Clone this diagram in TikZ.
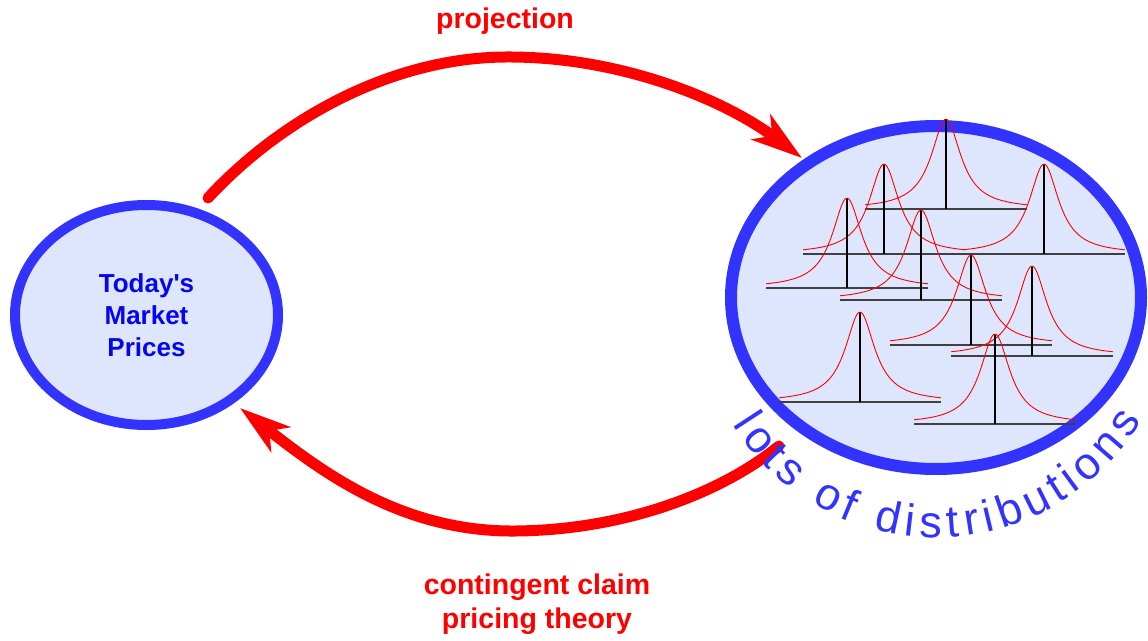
\documentclass[tikz,border=0pt]{standalone}
\usepackage{fontspec}
\setmainfont{Liberation Sans}
\setsansfont{Liberation Sans}
\newfontfamily\plainsans{Liberation Sans}
\usetikzlibrary{arrows.meta,shapes.geometric,decorations.text}
\definecolor{bordblue}{RGB}{51,51,255}
\definecolor{fillblue}{RGB}{221,230,253}
\definecolor{txtblue}{RGB}{5,5,240}
\definecolor{arrred}{RGB}{255,0,0}
\begin{document}
\begin{tikzpicture}[x=1pt,y=-1pt,
  bubble/.style={ellipse, draw=bordblue, fill=fillblue, inner sep=0pt},
  bigarrow/.style={draw=arrred, line width=11pt, line cap=round,
    -{Stealth[length=51pt, width=31pt, inset=14pt]}},
  lbl/.style={text=arrred, font=\bfseries\fontsize{28.5}{34}\selectfont, inner sep=0pt, align=center},
  baseln/.style={draw=black!75, line width=1.3pt},
  stemln/.style={draw=black, line width=1.2pt},
  curveln/.style={draw=arrred, line width=0.9pt}]
\fill[white] (0,0) rectangle (1148,640);
\useasboundingbox (0,0) rectangle (1148,640);

% left bubble
\node[bubble, line width=10pt, minimum width=263pt, minimum height=220pt,
  text=txtblue, align=center, font=\plainsans\bfseries\fontsize{26}{32}\selectfont]
  (mkt) at (146.5,315) {Today's\\Market\\Prices};

% right bubble
\node[bubble, line width=12pt, minimum width=410pt, minimum height=343pt]
  (rd) at (936,297.5) {};

% distributions
\foreach \cx/\by in {946/209, 884/254, 1044/254, 847/288, 921/300, 971/345, 1032/356, 860/402, 995/424}{
  \draw[baseln] (\cx-81,\by) -- (\cx+81,\by);
  \draw[stemln] (\cx,\by) -- (\cx,\by-90);
  \draw[curveln] plot[domain=-81:81, samples=90, smooth] ({\cx+\x},{\by-90/(1+(\x/18)^2)});
}

% arrows
\coordinate (ps) at (208,198);
\coordinate (pe) at (802,158);
\coordinate (cs) at (779,446);
\coordinate (ce) at (240,408);
\draw[bigarrow] (ps) .. controls (280,120) and (390,58) .. (505,57)
  .. controls (620,56) and (725,100) .. (pe);
\draw[bigarrow] (cs) .. controls (725,490) and (630,530) .. (515,531)
  .. controls (400,532) and (320,470) .. (ce);

% curved label
\path[decorate, decoration={text along path,
   text={|\fontsize{45}{45}\selectfont|lots of distributions},
   text color=bordblue, text align={fit to path}}]
  (rd.center) ++(148:240) arc[start angle=148, end angle=31, radius=240];

% labels
\node[lbl, anchor=base] (proj) at (505,28) {projection};
\node[lbl] (ccpt) at (537,603.7) {contingent claim\\pricing theory};
\end{tikzpicture}
\end{document}
